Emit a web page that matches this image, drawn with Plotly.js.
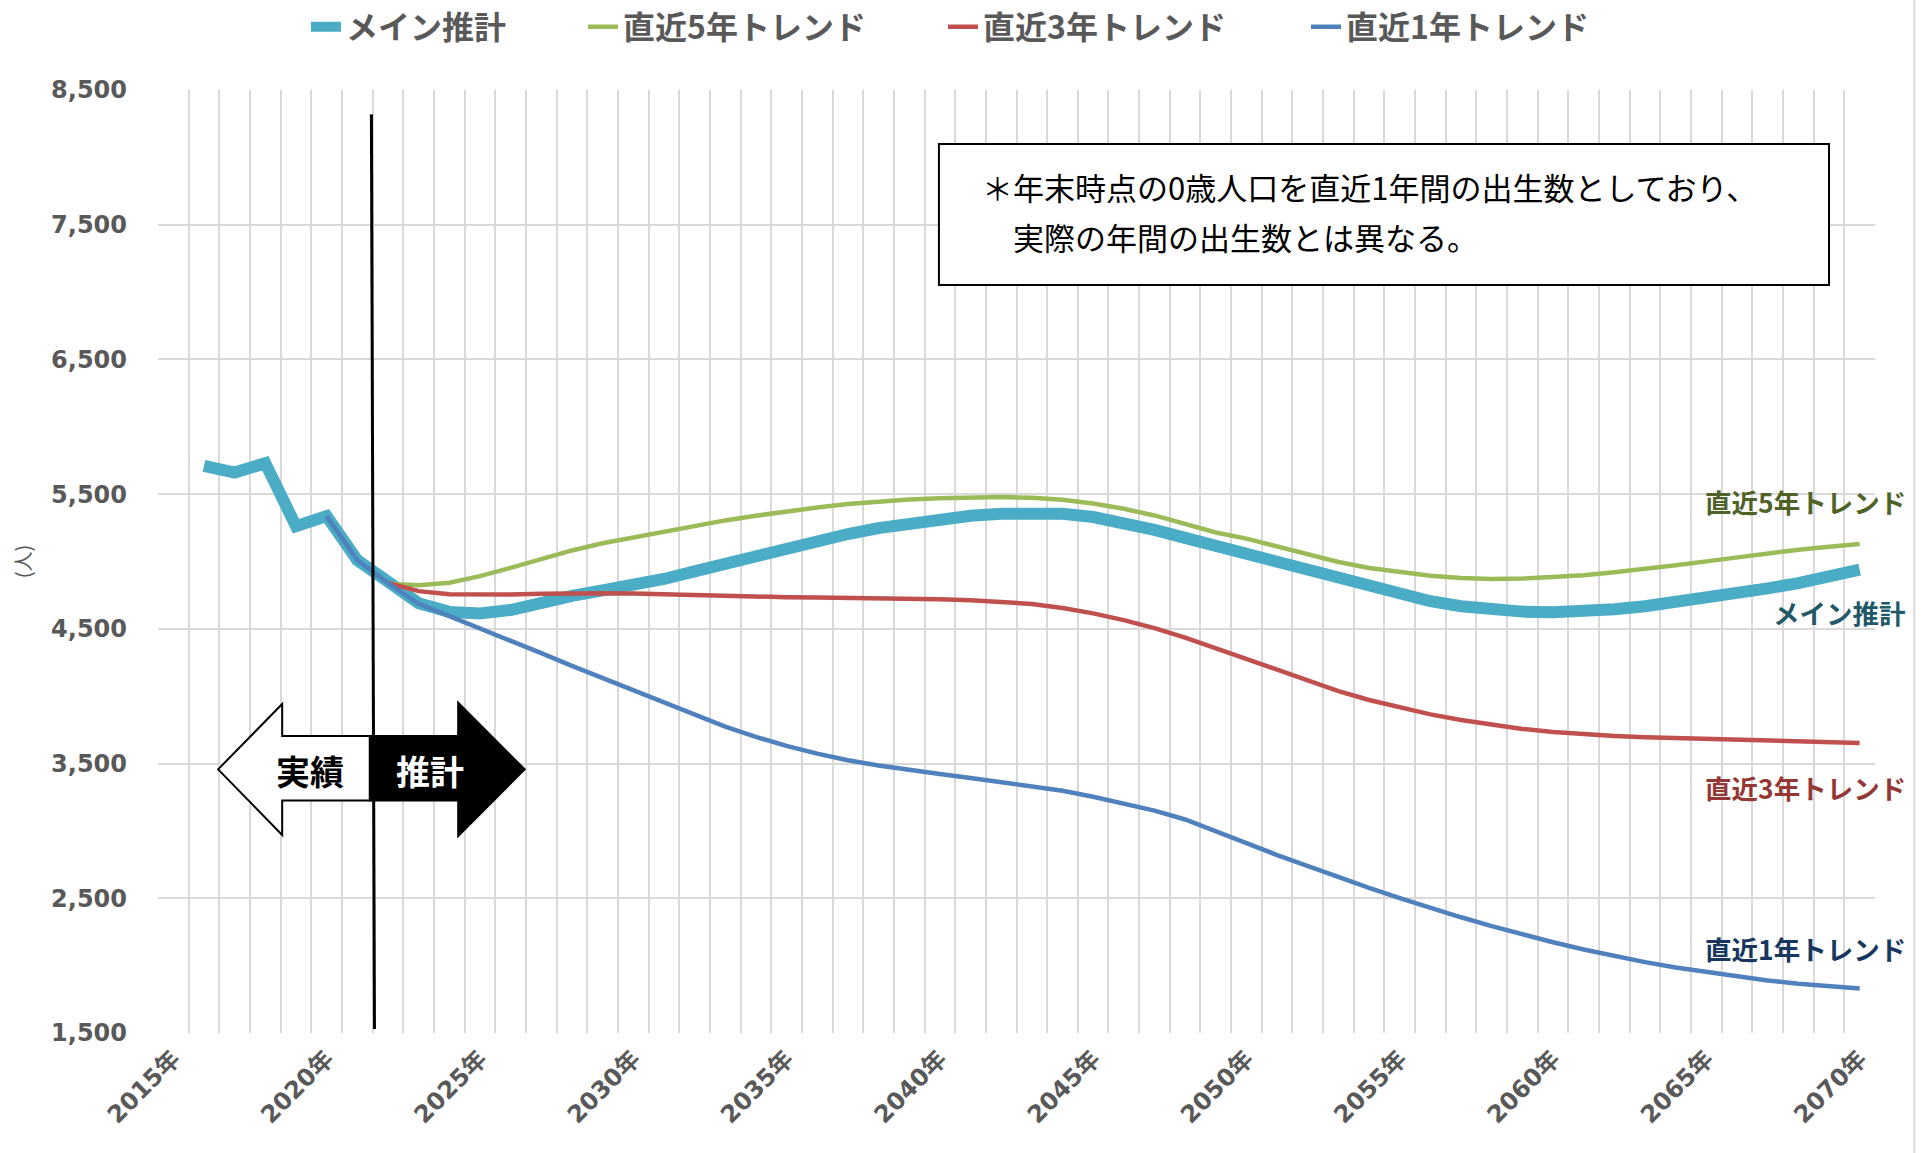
<!DOCTYPE html>
<html>
<head>
<meta charset="utf-8">
<script src="https://cdn.plot.ly/plotly-3.0.1.min.js"></script>
<style>html,body{margin:0;padding:0;background:#fff;}#chart{width:1930px;height:1153px;}</style>
</head>
<body>
<div id="chart"></div>
<script>
// ---- data ----
const yearsMain = [];
for (let y = 2016; y <= 2070; y++) yearsMain.push(y);
const yearsT1 = yearsMain.slice(4);   // 2020-2070
const yearsT35 = yearsMain.slice(6);  // 2022-2070

const mainValues = [5710,5660,5730,5262,5337,5010,4850,4690,4626,4614,
  4640,4700,4745,4785,4820,4870,4927,4984,5046,5105,
  5157,5204,5248,5285,5315,5340,5354,5362,5354,5330,
  5290,5235,5175,5115,5055,4995,4932,4865,4804,4749,
  4705,4668,4643,4628,4623,4630,4645,4668,4697,4730,
  4765,4800,4840,4885,4940];

const trend5Values = [4835,4824,4842,4891,4953,5020,5082,5135,5178,5223,
  5268,5305,5340,5372,5401,5426,5446,5460,5470,5475,
  5478,5473,5458,5431,5391,5342,5280,5215,5170,5112,
  5051,4996,4952,4920,4895,4878,4870,4873,4883,4898,
  4920,4944,4972,5001,5031,5060,5088,5110,5130];

const trend3Values = [4840,4780,4757,4752,4755,4760,4764,4765,4762,4755,
  4748,4742,4738,4735,4732,4730,4728,4725,4720,4712,
  4700,4685,4655,4615,4565,4505,4435,4355,4270,4191,
  4112,4038,3972,3915,3865,3823,3786,3757,3735,3717,
  3705,3695,3688,3683,3678,3673,3668,3660,3653];

const trend1Values = [5337,5010,4840,4686,4594,4505,4412,4320,4225,4135,
  4048,3952,3860,3774,3698,3631,3574,3525,3485,3451,
  3422,3393,3364,3335,3298,3254,3205,3151,3085,3000,
  2910,2821,2737,2656,2577,2502,2428,2359,2293,2231,
  2174,2120,2070,2026,1986,1952,1920,1890,1865,1846,1831];

const seriesNames = ['メイン推計','直近5年トレンド','直近3年トレンド','直近1年トレンド'];
const tickYears = [2015,2020,2025,2030,2035,2040,2045,2050,2055,2060,2065,2070];
const tickLabels = tickYears.map(y => y + '年');
const noteLines = ['＊年末時点の0歳人口を直近1年間の出生数としており、','実際の年間の出生数とは異なる。'];

// ---- styling ----
const colors = ['#4bacc6','#9bbb59','#c0504d','#4f81bd'];
const labelColors = ['#215968','#4f6228','#953735','#17375e'];
const gray = '#595959';
const grid = '#d9d9d9';
const jp = 'Noto Sans CJK JP';
const num = 'DejaVu Sans, Noto Sans CJK JP';

const traces = [
  {x: yearsMain, y: mainValues, name: seriesNames[0], legend: 'legend',
   mode: 'lines', line: {color: colors[0], width: 12}},
  {x: yearsT35, y: trend5Values, name: seriesNames[1], legend: 'legend2',
   mode: 'lines', line: {color: colors[1], width: 4.5}},
  {x: yearsT35, y: trend3Values, name: seriesNames[2], legend: 'legend3',
   mode: 'lines', line: {color: colors[2], width: 4.5}},
  {x: yearsT1, y: trend1Values, name: seriesNames[3], legend: 'legend4',
   mode: 'lines', line: {color: colors[3], width: 4.5}}
];

const legFont = {family: jp, size: 32, color: gray, weight: 'bold'};
function leg(xpx) {
  return {orientation: 'h', xref: 'container', yref: 'container',
          x: xpx / 1930, xanchor: 'left', y: 1 - 27 / 1153, yanchor: 'middle',
          font: legFont, bgcolor: 'rgba(0,0,0,0)', borderwidth: 0};
}

const shapes = [
  // note box
  {type: 'rect', xref: 'x', yref: 'y', x0: 2039.97, x1: 2069.0, y0: 7053, y1: 8100,
   line: {color: '#000', width: 2}, fillcolor: '#fff', layer: 'above'},
  // actual / projection divider
  {type: 'line', xref: 'x', yref: 'y', x0: 2021.46, y0: 8319, x1: 2021.56, y1: 1530,
   line: {color: '#000', width: 3}},
  // white arrow (left)
  {type: 'path', xref: 'x', yref: 'y',
   path: 'M2016.46,3457 L2018.55,3942 L2018.55,3705 L2021.41,3705 L2021.41,3225 L2018.55,3225 L2018.55,2970 Z',
   fillcolor: '#fff', line: {color: '#000', width: 2}},
  // black arrow (right)
  {type: 'path', xref: 'x', yref: 'y',
   path: 'M2021.41,3705 L2024.29,3705 L2024.29,3952 L2026.46,3457 L2024.29,2962 L2024.29,3225 L2021.41,3225 Z',
   fillcolor: '#000', line: {color: '#000', width: 2}},
  // chart area right border
  {type: 'line', xref: 'paper', yref: 'paper', x0: 1.0229, x1: 1.0229, y0: -0.13, y1: 1.1,
   line: {color: grid, width: 2}}
];

const annotations = [
  {xref: 'x', yref: 'y', x: 2041.3, y: 7783, xanchor: 'left', yanchor: 'middle', showarrow: false,
   text: noteLines[0], font: {family: jp, size: 31, color: '#000'}},
  {xref: 'x', yref: 'y', x: 2042.32, y: 7412, xanchor: 'left', yanchor: 'middle', showarrow: false,
   text: noteLines[1], font: {family: jp, size: 31, color: '#000'}},
  {xref: 'x', yref: 'y', x: 2019.45, y: 3452, showarrow: false, text: '実績',
   font: {family: jp, size: 34, color: '#000', weight: 'bold'}},
  {xref: 'x', yref: 'y', x: 2023.36, y: 3452, showarrow: false, text: '推計',
   font: {family: jp, size: 34, color: '#fff', weight: 'bold'}},
  {xref: 'paper', yref: 'y', x: 1.0194, y: 5442, xanchor: 'right', showarrow: false,
   text: seriesNames[1], font: {family: jp, size: 26.5, color: labelColors[1], weight: 'bold'}},
  {xref: 'paper', yref: 'y', x: 1.0194, y: 4618, xanchor: 'right', showarrow: false,
   text: seriesNames[0], font: {family: jp, size: 26.5, color: labelColors[0], weight: 'bold'}},
  {xref: 'paper', yref: 'y', x: 1.0194, y: 3319, xanchor: 'right', showarrow: false,
   text: seriesNames[2], font: {family: jp, size: 26.5, color: labelColors[2], weight: 'bold'}},
  {xref: 'paper', yref: 'y', x: 1.0194, y: 2131, xanchor: 'right', showarrow: false,
   text: seriesNames[3], font: {family: jp, size: 26.5, color: labelColors[3], weight: 'bold'}}
];

const layout = {
  width: 1930, height: 1153,
  margin: {l: 158, r: 55, t: 90, b: 120},
  paper_bgcolor: '#fff', plot_bgcolor: '#fff',
  showlegend: true,
  legend: leg(306), legend2: leg(583), legend3: leg(943), legend4: leg(1306),
  xaxis: {
    range: [2014.5, 2070.5], tickmode: 'array', tickvals: tickYears, ticktext: tickLabels,
    tickangle: -45, showgrid: false, zeroline: false, showline: false, ticks: '',
    ticklabelstandoff: 6,
    tickfont: {family: num, size: 24, color: gray, weight: 'bold'},
    minor: {tick0: 2014.5, dtick: 1, showgrid: true, gridcolor: grid, gridwidth: 2, ticks: ''}
  },
  yaxis: {
    range: [1500, 8500], tickmode: 'linear', tick0: 1500, dtick: 1000, tickformat: ',d',
    showgrid: true, gridcolor: grid, gridwidth: 2, zeroline: false, showline: false,
    ticks: '', ticklabelstandoff: 30,
    tickfont: {family: num, size: 24, color: gray, weight: 'bold'},
    title: {text: '(人)', standoff: 14, font: {family: jp, size: 20, color: gray}}
  },
  shapes: shapes,
  annotations: annotations
};

Plotly.newPlot('chart', traces, layout, {displayModeBar: false, staticPlot: true});
</script>
</body>
</html>
